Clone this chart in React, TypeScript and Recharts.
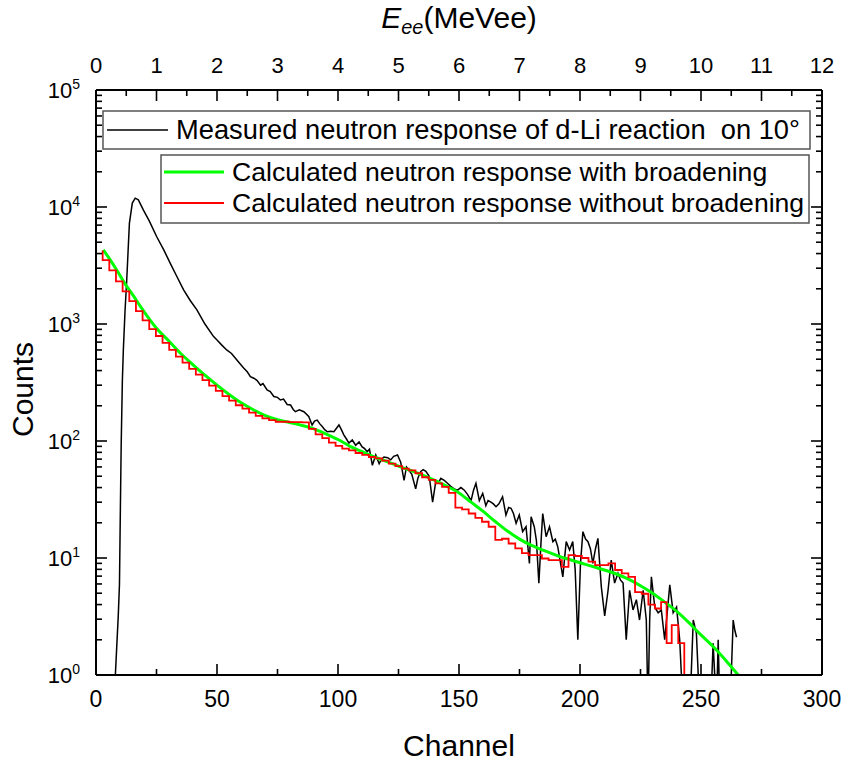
import React from 'react';
import { LineChart, Line, XAxis, YAxis, Legend } from 'recharts';

const FONT = '"Liberation Sans", Arial, Helvetica, sans-serif';

// ---------- tick labels ----------
const channelMajorTicks = [0, 50, 100, 150, 200, 250, 300];
const channelMinorTicks = [25, 75, 125, 175, 225, 275];
const energyMajorTicks = [0, 1, 2, 3, 4, 5, 6, 7, 8, 9, 10, 11, 12];
const energyMinorTicks = [0.5, 1.5, 2.5, 3.5, 4.5, 5.5, 6.5, 7.5, 8.5, 9.5, 10.5, 11.5];
const countDecades = [1, 10, 100, 1000, 10000, 100000];
const countMultipliers = [2, 3, 4, 5, 6, 7, 8, 9];
const channelsPerMeVee = 25;

// ---------- series names ----------
const nameMeasured = 'Measured neutron response of d-Li reaction  on 10°';
const nameBroad = 'Calculated neutron response with broadening';
const nameNoBroad = 'Calculated neutron response without broadening';

// ---------- measured (black) ----------
const measuredChannel = [
  7.5, 8.0, 8.6, 9.2, 9.7, 10.0, 10.4, 10.9, 11.3, 12.0, 12.7, 13.8, 15.0, 16.2, 17.5, 19.6, 22.0, 25.1, 28.0, 30.7,
  33.0, 36.2, 39.0, 41.7, 45.0, 48.6, 50.0, 52.0, 54.0, 56.0, 58.3, 61.0, 62.5, 63.8, 65.2, 66.5, 68.0, 69.0, 70.7, 72.0,
  73.5, 75.0, 76.2, 77.5, 79.0, 80.4, 81.5, 82.4, 84.0, 85.9, 87.9, 89.3, 90.3, 91.4, 92.5, 93.5, 94.5, 95.6, 97.0, 98.3,
  99.3, 100.4, 101.4, 102.4, 103.5, 104.5, 105.9, 107.3, 108.7, 110.0, 111.0, 112.1, 113.0, 114.2, 115.6, 117.0, 118.0, 119.0, 120.5, 121.8,
  123.0, 124.6, 125.9, 127.3, 128.3, 129.4, 130.5, 132.1, 133.0, 134.2, 135.2, 136.3, 137.7, 139.1, 140.4, 141.5, 142.5, 143.9, 145.0, 146.6,
  148.0, 149.4, 150.8, 152.2, 153.5, 155.0, 156.0, 157.0, 158.4, 159.8, 161.1, 162.0, 163.2, 164.2, 165.3, 166.5, 168.0, 169.4, 170.5, 171.5,
  172.5, 173.6, 174.9, 176.3, 177.7, 179.1, 179.8, 181.1, 182.0, 183.0, 184.0, 184.6, 186.0, 187.4, 188.8, 189.8, 190.8, 192.9, 194.3, 195.7,
  197.0, 198.0, 199.1, 200.2, 201.2, 202.3, 203.3, 204.3, 205.3, 206.4, 207.4, 208.8, 210.2, 211.6, 212.9, 214.3, 215.7, 216.7, 217.8, 219.1,
  220.5, 221.9, 223.3, 224.6, 226.1, 227.4, 228.1, 228.8, 229.5, 230.9, 232.3, 233.6, 235.0, 237.1, 238.5, 239.9, 241.2, 242.6, 245.4, 246.8,
  248.1, 249.5, 254.0, 255.0, 256.4, 257.1, 257.8, 262.0, 263.3, 264.0, 264.7,
];
const measuredCounts = [
  0.5, 1.0, 1.8, 3.2, 6, 20, 90, 330, 600, 1300, 2380, 7250, 10800, 11900, 11500, 9400, 7600, 5570, 4300, 3300,
  2650, 1960, 1580, 1320, 1000, 780, 730, 660, 600, 560, 490, 420, 390, 355, 344, 330, 300, 310, 273, 265,
  240, 236, 224, 228, 205, 203, 186, 178, 185, 178, 162, 137, 148, 151, 140, 133, 125, 120, 121, 120,
  128, 137, 125, 113, 104, 96, 102, 92, 98, 89, 86, 81, 85, 62, 76, 64, 70, 73, 72, 69,
  74, 76, 66, 46, 60, 56, 52, 39, 48, 55, 57, 55, 50, 30, 45, 44, 48, 46, 44, 41,
  39, 38, 40, 38, 35, 31, 38, 43.5, 31, 35.7, 28, 31, 30, 29, 27.4, 29, 33.4, 23.3, 27, 26.6,
  24, 19.8, 23.3, 16.8, 18.5, 9, 22.5, 18.5, 14, 6.1, 15, 24, 15.2, 18.5, 13.8, 14.5, 12.5, 6.9, 13.8, 11.7,
  13.8, 8, 2, 9, 16.8, 14.5, 13.8, 12, 9, 12, 14.7, 5.7, 3.2, 5.3, 9.6, 6.1, 7.4, 6.5, 6.1, 2.0,
  5.3, 3.6, 4.4, 2.95, 5.3, 2.95, 0.5, 3, 6.9, 3.8, 3.4, 3.6, 2, 5.9, 3.4, 3.8, 2, 0.5, 0.5, 2.95,
  2.27, 0.5, 0.5, 1.87, 0.5, 2, 0.5, 0.5, 2.95, 2.4, 2.1,
];

// ---------- calculated with broadening (green) ----------
const broadChannel = [
  3, 6, 9, 12, 15, 18, 21, 25, 30, 35, 40, 45, 50, 55, 60, 65, 70, 75, 80, 85,
  90, 95, 100, 105, 110, 115, 120, 125, 130, 135, 140, 145, 150, 155, 160, 165, 170, 175, 180, 185,
  190, 195, 200, 205, 210, 215, 220, 225, 230, 235, 240, 245, 250, 255, 260, 265, 267,
];
const broadCounts = [
  4300, 3500, 2800, 2200, 1800, 1450, 1180, 920, 720, 560, 450, 365, 300, 250, 212, 185, 165, 152, 144, 136,
  127, 115, 103, 90, 81, 73, 67, 61, 56, 51, 46, 41, 36, 30, 25, 20.5, 17, 14.5, 12.8, 11.6,
  10.6, 9.8, 9.1, 8.5, 7.9, 7.3, 6.6, 5.8, 5.0, 4.2, 3.5, 2.8, 2.2, 1.75, 1.35, 1.02, 0.9,
];

// ---------- calculated without broadening (red histogram, bin starts) ----------
const noBroadChannel = [
  2.75, 2.75, 5.5, 8.25, 11, 13.75, 16.5, 19.25, 22, 24.75, 27.5, 30.25, 33, 35.75, 38.5, 41.25, 44, 46.75, 49.5, 52.25,
  55, 57.75, 60.5, 63.25, 66, 68.75, 71.5, 74.25, 77, 79.75, 82.5, 85.25, 88, 90.75, 93.5, 96.25, 99, 101.75, 104.5, 107.25,
  110, 112.75, 115.5, 118.25, 121, 123.75, 126.5, 129.25, 132, 134.75, 137.5, 140.25, 143, 145.75, 148.5, 151.25, 154, 156.75, 159.5, 162.25,
  165, 167.75, 170.5, 173.25, 176, 178.75, 181.5, 184.25, 187, 189.75, 192.5, 195.25, 198, 200.75, 203.5, 206.25, 209, 211.75, 214.5, 217.25,
  220, 222.75, 225.5, 228.25, 231, 233.5, 235.8, 237.9, 240.6, 243.1,
];
const noBroadCounts = [
  4250, 3510, 2870, 2310, 1900, 1570, 1290, 1075, 905, 790, 690, 600, 527, 467, 414, 369, 331, 297, 268, 242,
  221, 202, 189, 175, 164, 156, 151, 146, 146, 145, 145, 144, 127, 114, 106, 97, 91, 86, 83, 79,
  76, 73, 71, 68, 64, 61, 58, 56, 53, 49, 46.5, 43.5, 40.5, 36, 27, 26, 24, 22, 20.4, 18.5,
  14.3, 14.6, 13.3, 12.1, 11, 10.6, 10.6, 9.9, 9.6, 9.6, 8.4, 10.6, 10.4, 10.0, 9.3, 8.7, 8.7, 9.0, 7.9, 7.4,
  6.9, 5.1, 4.95, 4.0, 3.7, 4.2, 1.87, 2.67, 1.87, 0.5,
];

const measuredData = measuredChannel.map((c, i) => ({ channel: c, energy: c / channelsPerMeVee, counts: measuredCounts[i] }));
const broadData = broadChannel.map((c, i) => ({ channel: c, counts: broadCounts[i] }));
const noBroadData = noBroadChannel.map((c, i) => ({ channel: c, counts: noBroadCounts[i] }));

const countMinorTicks = countDecades.slice(0, -1).flatMap((d) => countMultipliers.map((m) => m * d));
const countTicks = [...countDecades, ...countMinorTicks].sort((a, b) => a - b);
const channelTicks = [...channelMajorTicks, ...channelMinorTicks].sort((a, b) => a - b);
const energyTicks = [...energyMajorTicks, ...energyMinorTicks].sort((a, b) => a - b);

const MAJOR = 11;
const MINOR = 6;
const TICK_W = 1.6;

const BottomTick = (props: any) => {
  const { x, y, payload } = props;
  const v = payload.value;
  const major = channelMajorTicks.includes(v);
  return (
    <g>
      <line x1={x} x2={x} y1={y} y2={y - (major ? MAJOR : MINOR)} stroke="#000" strokeWidth={TICK_W} />
      {major && (
        <text x={x} y={y + 32} textAnchor="middle" fontSize={23} fontFamily={FONT} fill="#000">
          {v}
        </text>
      )}
    </g>
  );
};

const TopTick = (props: any) => {
  const { x, y, payload } = props;
  const v = payload.value;
  const major = energyMajorTicks.includes(v);
  return (
    <g>
      <line x1={x} x2={x} y1={y} y2={y + (major ? MAJOR : MINOR)} stroke="#000" strokeWidth={TICK_W} />
      {major && (
        <text x={x} y={y - 17} textAnchor="middle" fontSize={22} fontFamily={FONT} fill="#000">
          {v}
        </text>
      )}
    </g>
  );
};

const LeftTick = (props: any) => {
  const { x, y, payload } = props;
  const v = payload.value;
  const major = countDecades.includes(v);
  const exp = Math.round(Math.log10(v));
  return (
    <g>
      <line x1={x} x2={x + (major ? MAJOR : MINOR)} y1={y} y2={y} stroke="#000" strokeWidth={TICK_W} />
      {major && (
        <text x={x - 16} y={y + 8} textAnchor="end" fontSize={22} fontFamily={FONT} fill="#000">
          <tspan>10</tspan>
          <tspan dy={-9} fontSize={14}>
            {exp}
          </tspan>
        </text>
      )}
    </g>
  );
};

const RightTick = (props: any) => {
  const { x, y, payload } = props;
  const v = payload.value;
  const major = countDecades.includes(v);
  return <line x1={x} x2={x - (major ? MAJOR : MINOR)} y1={y} y2={y} stroke="#000" strokeWidth={TICK_W} />;
};

const BottomTitle = (props: any) => {
  const vb = props.viewBox || { x: 96, y: 675, width: 726, height: 86 };
  return (
    <text x={vb.x + vb.width / 2} y={vb.y + 81} textAnchor="middle" fontSize={30} fontFamily={FONT} fill="#000">
      Channel
    </text>
  );
};

const TopTitle = (props: any) => {
  const vb = props.viewBox || { x: 96, y: 0, width: 726, height: 90 };
  return (
    <text x={vb.x + vb.width / 2} y={vb.y + 28} textAnchor="middle" fontSize={30} fontFamily={FONT} fill="#000">
      <tspan fontStyle="italic">E</tspan>
      <tspan fontStyle="italic" fontSize={20} dy={6}>
        ee
      </tspan>
      <tspan dy={-6}>(MeVee)</tspan>
    </text>
  );
};

const LeftTitle = (props: any) => {
  const vb = props.viewBox || { x: 0, y: 90, width: 96, height: 585 };
  const cx = 33;
  const cy = vb.y + vb.height / 2 + 7;
  return (
    <text
      x={cx}
      y={cy}
      transform={`rotate(-90 ${cx} ${cy})`}
      textAnchor="middle"
      fontSize={30}
      fontFamily={FONT}
      fill="#000"
    >
      Counts
    </text>
  );
};

const LegendBoxes = (props: any) => {
  const payload: any[] = (props.payload || []).filter((p: any) => p.type !== 'none');
  const first = payload.filter((p) => p.value === nameMeasured);
  const rest = payload.filter((p) => p.value === nameBroad || p.value === nameNoBroad);
  const sw = (p: any) => (p.payload && p.payload.strokeWidth) || 1.5;
  return (
    <svg width={844} height={761} style={{ position: 'absolute', left: 0, top: 0, pointerEvents: 'none' }}>
      <rect x={103} y={111} width={707} height={38} fill="#fff" stroke="#555" strokeWidth={1.5} />
      {first.slice(0, 1).map((p) => (
        <g key={p.value}>
          <line x1={107} x2={168} y1={130} y2={130} stroke={p.color} strokeWidth={sw(p)} />
          <text x={176} y={139} fontSize={27.3} fontFamily={FONT} fill="#000" style={{ whiteSpace: 'pre' }}>
            {p.value}
          </text>
        </g>
      ))}
      <rect x={161} y={155} width={648} height={68} fill="#fff" stroke="#555" strokeWidth={1.5} />
      {rest.map((p, i) => (
        <g key={p.value}>
          <line x1={164} x2={224} y1={172 + i * 31} y2={172 + i * 31} stroke={p.color} strokeWidth={sw(p)} />
          <text x={232} y={181 + i * 31} fontSize={26.6} fontFamily={FONT} fill="#000">
            {p.value}
          </text>
        </g>
      ))}
    </svg>
  );
};

export default function App() {
  return (
    <div style={{ position: 'absolute', left: 0, top: 0, width: 844, height: 761, background: '#fff' }}>
      <LineChart width={844} height={761} margin={{ top: 0, right: 0, bottom: 0, left: 0 }}>
        <XAxis
          xAxisId="bottom"
          dataKey="channel"
          type="number"
          domain={[0, 300]}
          allowDataOverflow
          ticks={channelTicks}
          interval={0}
          orientation="bottom"
          height={86}
          tickSize={0}
          tickMargin={0}
          tickLine={false}
          tick={<BottomTick />}
          axisLine={{ stroke: '#000', strokeWidth: 2 }}
          label={<BottomTitle />}
        />
        <XAxis
          xAxisId="top"
          dataKey="energy"
          type="number"
          domain={[0, 12]}
          allowDataOverflow
          ticks={energyTicks}
          interval={0}
          orientation="top"
          height={90}
          tickSize={0}
          tickMargin={0}
          tickLine={false}
          tick={<TopTick />}
          axisLine={{ stroke: '#000', strokeWidth: 2 }}
          label={<TopTitle />}
        />
        <YAxis
          yAxisId="left"
          type="number"
          scale="log"
          domain={[1, 100000]}
          allowDataOverflow
          ticks={countTicks}
          interval={0}
          orientation="left"
          width={96}
          tickSize={0}
          tickMargin={0}
          tickLine={false}
          tick={<LeftTick />}
          axisLine={{ stroke: '#000', strokeWidth: 2 }}
          label={<LeftTitle />}
        />
        <YAxis
          yAxisId="right"
          type="number"
          scale="log"
          domain={[1, 100000]}
          allowDataOverflow
          ticks={countTicks}
          interval={0}
          orientation="right"
          width={22}
          tickSize={0}
          tickMargin={0}
          tickLine={false}
          tick={<RightTick />}
          axisLine={{ stroke: '#000', strokeWidth: 2 }}
        />
        {/* the measured spectrum in MeVee units, invisible, only to drive the top energy axis */}
        <Line
          xAxisId="top"
          yAxisId="right"
          data={measuredData}
          dataKey="counts"
          name="energy scale"
          legendType="none"
          type="linear"
          stroke="none"
          dot={false}
          activeDot={false}
          isAnimationActive={false}
        />
        <Line
          xAxisId="bottom"
          yAxisId="left"
          data={measuredData}
          dataKey="counts"
          name={nameMeasured}
          type="linear"
          stroke="#000000"
          strokeWidth={1.5}
          dot={false}
          isAnimationActive={false}
        />
        <Line
          xAxisId="bottom"
          yAxisId="left"
          data={broadData}
          dataKey="counts"
          name={nameBroad}
          type="monotone"
          stroke="#00ff00"
          strokeWidth={3}
          dot={false}
          isAnimationActive={false}
        />
        <Line
          xAxisId="bottom"
          yAxisId="left"
          data={noBroadData}
          dataKey="counts"
          name={nameNoBroad}
          type="stepAfter"
          stroke="#ff0000"
          strokeWidth={1.8}
          dot={false}
          isAnimationActive={false}
        />
        <Legend
          layout="vertical"
          align="center"
          verticalAlign="middle"
          wrapperStyle={{ left: 0, top: 0, width: 844, height: 761 }}
          content={<LegendBoxes />}
        />
      </LineChart>
    </div>
  );
}
